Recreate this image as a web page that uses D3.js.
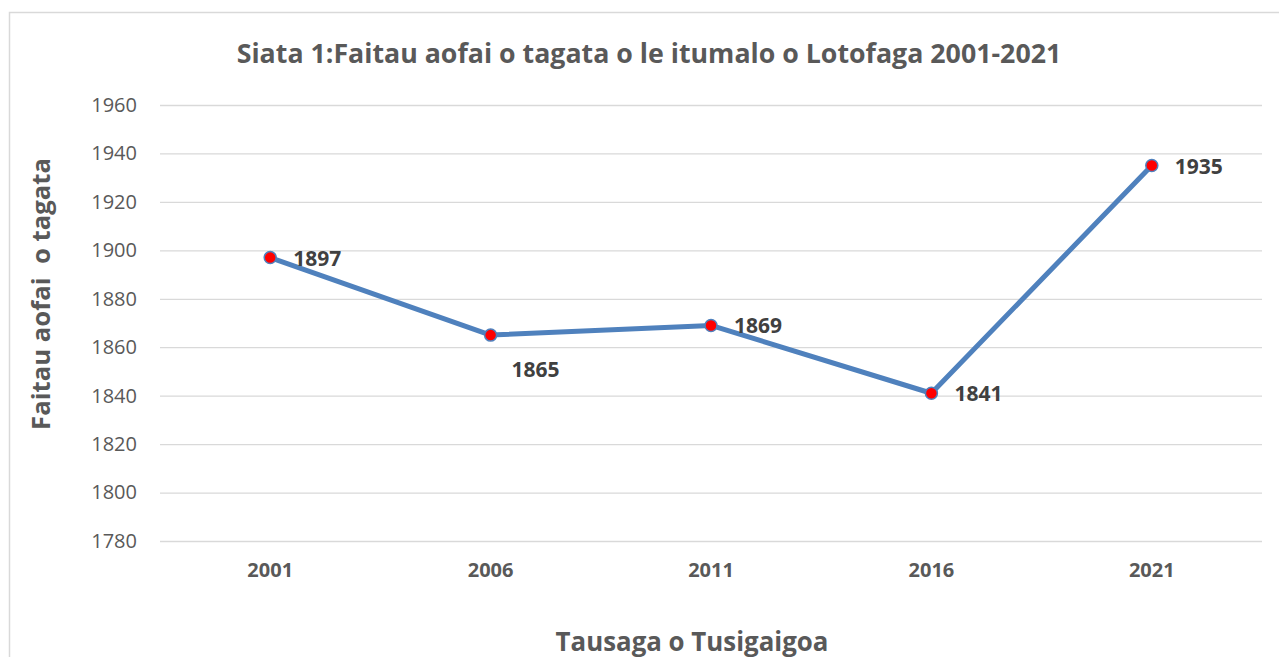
<!DOCTYPE html>
<html>
<head>
<meta charset="utf-8">
<script src="https://cdn.jsdelivr.net/npm/d3@7"></script>
<style>
  body { margin: 0; background: #fff; }
  svg { display: block; font-family: "Open Sans", sans-serif; }
  .grid line { stroke: #d9d9d9; stroke-width: 1.3; }
  .grid .domain { display: none; }
  .yaxis text { fill: #595959; font-size: 20px; font-family: "Open Sans", sans-serif; }
  .xaxis text { fill: #595959; font-size: 20px; font-weight: bold; font-family: "Open Sans", sans-serif; }
</style>
</head>
<body>
<div class="plot"></div>
<script>
// data
var years = ["2001", "2006", "2011", "2016", "2021"];
var population = [1897, 1865, 1869, 1841, 1935];
var yTicks = [1780, 1800, 1820, 1840, 1860, 1880, 1900, 1920, 1940, 1960];
// where each data label sits relative to its point
var labelSide = ["right", "below", "right", "right", "right"];

var W = 1279, H = 657,
    margin = {top: 105, right: 17, bottom: 116, left: 160},
    width = W - margin.left - margin.right,
    height = H - margin.top - margin.bottom;

var svg = d3.select(".plot").append("svg")
    .attr("width", W)
    .attr("height", H);

// shrink/grow a text so it spans the width seen in the picture
function fitWidth(sel, target) {
  var node = sel.node(),
      fs = +sel.attr("font-size"),
      len = node.getComputedTextLength();
  if (len > 0) sel.attr("font-size", fs * target / len);
}

// chart frame
svg.append("rect")
    .attr("x", 9.5).attr("y", 12.5)
    .attr("width", W + 20).attr("height", H + 20)
    .attr("fill", "none")
    .attr("stroke", "#d9d9d9")
    .attr("stroke-width", 1.5);

var x = d3.scaleBand()
    .domain(years)
    .range([0, width]);

var y = d3.scaleLinear()
    .domain([1780, 1960])
    .range([height, 0]);

var g = svg.append("g")
    .attr("transform", "translate(" + margin.left + "," + margin.top + ")");

// gridlines
g.append("g")
    .attr("class", "grid")
    .call(d3.axisLeft(y).tickValues(yTicks).tickSize(-width).tickFormat(""))
  .selectAll(".tick line").attr("x1", 0);

// y tick labels
g.append("g")
    .attr("class", "yaxis")
    .call(d3.axisLeft(y).tickValues(yTicks).tickSize(0).tickPadding(23).tickFormat(d3.format("d")))
  .call(function(s) { s.select(".domain").remove(); });

// x tick labels
g.append("g")
    .attr("class", "xaxis")
    .attr("transform", "translate(0," + height + ")")
    .call(d3.axisBottom(x).tickSize(0).tickPadding(22))
  .call(function(s) { s.select(".domain").remove(); });

var pts = years.map(function(yr, i) { return {year: yr, value: population[i], side: labelSide[i]}; });

var line = d3.line()
    .x(function(d) { return x(d.year) + x.bandwidth() / 2; })
    .y(function(d) { return y(d.value); });

g.append("path")
    .datum(pts)
    .attr("d", line)
    .attr("fill", "none")
    .attr("stroke", "#4f81bd")
    .attr("stroke-width", 5)
    .attr("stroke-linejoin", "round");

g.selectAll(".dot")
    .data(pts)
  .enter().append("circle")
    .attr("class", "dot")
    .attr("cx", function(d) { return x(d.year) + x.bandwidth() / 2; })
    .attr("cy", function(d) { return y(d.value); })
    .attr("r", 6)
    .attr("fill", "#ff0000")
    .attr("stroke", "#4f81bd")
    .attr("stroke-width", 1.5);

g.selectAll(".lbl")
    .data(pts)
  .enter().append("text")
    .attr("class", "lbl")
    .attr("x", function(d) {
      var cx = x(d.year) + x.bandwidth() / 2;
      return d.side == "right" ? cx + 23 : cx + 45;
    })
    .attr("y", function(d) {
      var cy = y(d.value);
      return d.side == "right" ? cy + 8 : cy + 42;
    })
    .attr("text-anchor", function(d) { return d.side == "right" ? "start" : "middle"; })
    .attr("fill", "#404040")
    .attr("font-size", 21)
    .attr("font-weight", "bold")
    .text(function(d) { return d.value; });

// title
svg.append("text")
    .attr("x", 649).attr("y", 63)
    .attr("text-anchor", "middle")
    .attr("fill", "#595959")
    .attr("font-size", 24)
    .attr("font-weight", "bold")
    .text("Siata 1:Faitau aofai o tagata o le itumalo o Lotofaga 2001-2021")
    .call(fitWidth, 825);

// y axis title
svg.append("text")
    .attr("transform", "translate(50,294) rotate(-90)")
    .attr("text-anchor", "middle")
    .attr("fill", "#595959")
    .attr("font-size", 26)
    .attr("font-weight", "bold")
    .style("white-space", "pre")
    .text("Faitau aofai  o tagata")
    .call(fitWidth, 272);

// x axis title
svg.append("text")
    .attr("x", 692).attr("y", 651)
    .attr("text-anchor", "middle")
    .attr("fill", "#595959")
    .attr("font-size", 26)
    .attr("font-weight", "bold")
    .text("Tausaga o Tusigaigoa")
    .call(fitWidth, 273);
</script>
</body>
</html>
